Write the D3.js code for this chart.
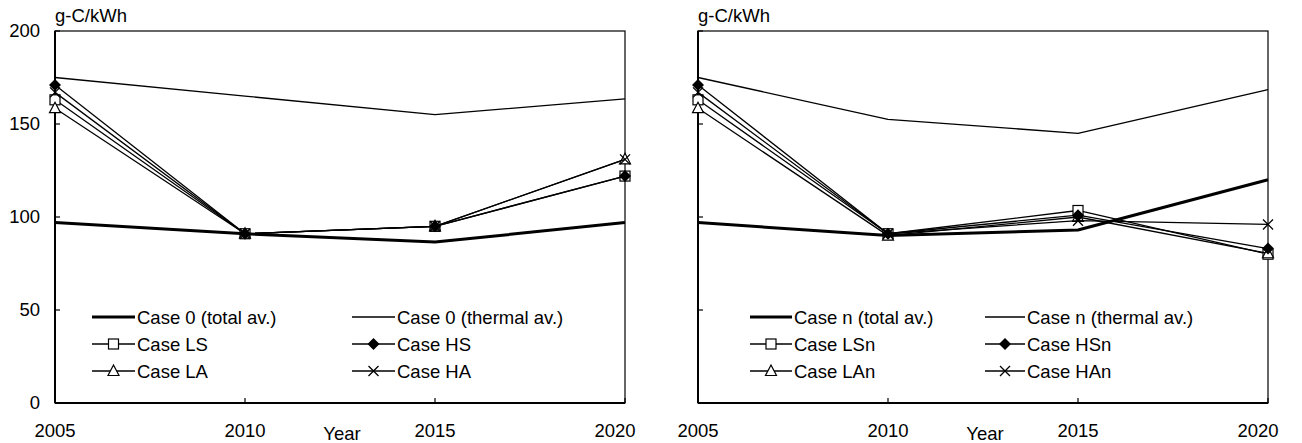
<!DOCTYPE html>
<html>
<head>
<meta charset="utf-8">
<script src="https://d3js.org/d3.v7.min.js"></script>
<style>
body { margin: 0; background: #fff; }
svg { display: block; font-family: "Liberation Sans", Arial, sans-serif; }
</style>
</head>
<body>
<svg id="chart" width="1302" height="443"></svg>
<script>
// years on the x axis
var years = [2005, 2010, 2015, 2020];
var yTicks = [0, 50, 100, 150, 200];

// left panel: Case 0 family
var case0Total   = [97, 91, 86.5, 97];
var case0Thermal = [175, 165, 155, 163.5];
var caseLS = [163, 91, 95, 122];
var caseHS = [171, 91, 95, 122];
var caseLA = [158.5, 91, 95, 131];
var caseHA = [167, 91, 95, 131];

// right panel: Case n family
var casenTotal   = [97, 90, 93, 120];
var casenThermal = [175, 152.5, 145, 168.5];
var caseLSn = [163, 91, 103.5, 80];
var caseHSn = [171, 91, 101, 83];
var caseLAn = [158.5, 90, 100, 80.5];
var caseHAn = [167, 91, 98, 96];

var leftNames  = ["Case 0 (total av.)", "Case 0 (thermal av.)", "Case LS", "Case HS", "Case LA", "Case HA"];
var rightNames = ["Case n (total av.)", "Case n (thermal av.)", "Case LSn", "Case HSn", "Case LAn", "Case HAn"];

var kinds = ["thick", "thin", "square", "diamond", "triangle", "cross"];

var svg = d3.select("#chart");
var H = 403, T = 31;
var FS = 18.5;

function drawMarker(g, kind, x, y) {
  if (kind == "square") {
    g.append("rect").attr("x", x - 5).attr("y", y - 5).attr("width", 10).attr("height", 10)
      .attr("fill", "#fff").attr("stroke", "#000").attr("stroke-width", 1.2);
  } else if (kind == "diamond") {
    g.append("path").attr("d", "M0,-6L6,0L0,6L-6,0Z")
      .attr("transform", "translate(" + x + "," + y + ")").attr("fill", "#000");
  } else if (kind == "triangle") {
    g.append("path").attr("d", "M0,-6L5.5,4.5L-5.5,4.5Z")
      .attr("transform", "translate(" + x + "," + y + ")")
      .attr("fill", "#fff").attr("stroke", "#000").attr("stroke-width", 1.2);
  } else if (kind == "cross") {
    g.append("path").attr("d", "M-5,-5L5,5M-5,5L5,-5")
      .attr("transform", "translate(" + x + "," + y + ")")
      .attr("stroke", "#000").attr("stroke-width", 1.3);
  }
}

function panel(left, series, names, showYLabels, legendPos) {
  var x = d3.scaleLinear().domain([2005, 2020]).range([left, left + 570]);
  var y = d3.scaleLinear().domain([0, 200]).range([H, T]);
  var g = svg.append("g");

  // frame
  g.append("rect").attr("x", x(2005)).attr("y", y(200))
    .attr("width", x(2020) - x(2005)).attr("height", y(0) - y(200))
    .attr("fill", "none").attr("stroke", "#000").attr("stroke-width", 1.2);
  g.append("line").attr("x1", x(2005)).attr("x2", x(2005)).attr("y1", y(200)).attr("y2", y(0))
    .attr("stroke", "#000").attr("stroke-width", 2);
  g.append("line").attr("x1", x(2005)).attr("x2", x(2020)).attr("y1", y(0)).attr("y2", y(0))
    .attr("stroke", "#000").attr("stroke-width", 2);

  // ticks
  yTicks.forEach(function (t) {
    g.append("line").attr("x1", x(2005)).attr("x2", x(2005) + 5).attr("y1", y(t)).attr("y2", y(t))
      .attr("stroke", "#000").attr("stroke-width", 1.2);
    if (showYLabels) {
      g.append("text").attr("x", x(2005) - 15).attr("y", y(t) + 6).attr("text-anchor", "end")
        .attr("font-size", FS).text(t);
    }
  });
  years.forEach(function (yr) {
    g.append("line").attr("x1", x(yr)).attr("x2", x(yr)).attr("y1", y(0)).attr("y2", y(0) - 5)
      .attr("stroke", "#000").attr("stroke-width", 1.2);
    g.append("text").attr("x", yr == 2020 ? x(yr) - 10 : x(yr)).attr("y", 437).attr("text-anchor", "middle")
      .attr("font-size", FS).text(yr);
  });
  g.append("text").attr("x", left + 287).attr("y", 440).attr("text-anchor", "middle")
    .attr("font-size", FS).text("Year");
  g.append("text").attr("x", left).attr("y", 22).attr("font-size", FS).text("g-C/kWh");

  var line = d3.line().x(function (d, i) { return x(years[i]); }).y(function (d) { return y(d); });

  // draw markers series first, averages on top
  [2, 4, 5, 3, 1, 0].forEach(function (k) {
    var kind = kinds[k];
    g.append("path").attr("d", line(series[k])).attr("fill", "none").attr("stroke", "#000")
      .attr("stroke-width", kind == "thick" ? 3 : 1.3).attr("stroke-linejoin", "round");
    if (kind != "thick" && kind != "thin") {
      series[k].forEach(function (v, i) { drawMarker(g, kind, x(years[i]), y(v)); });
    }
  });

  // legend
  names.forEach(function (nm, k) {
    var col = k % 2, row = Math.floor(k / 2);
    var lx = left + legendPos[col][0], lx2 = left + legendPos[col][1];
    var ly = 317 + row * 27;
    g.append("line").attr("x1", lx).attr("x2", lx2).attr("y1", ly).attr("y2", ly)
      .attr("stroke", "#000").attr("stroke-width", kinds[k] == "thick" ? 3 : 1.3);
    drawMarker(g, kinds[k], (lx + lx2) / 2, ly);
    g.append("text").attr("x", lx2 + 2).attr("y", ly + 6.5).attr("font-size", FS).text(nm);
  });
}

panel(55, [case0Total, case0Thermal, caseLS, caseHS, caseLA, caseHA], leftNames, true,
  [[37, 80], [297, 340]]);
panel(698, [casenTotal, casenThermal, caseLSn, caseHSn, caseLAn, caseHAn], rightNames, false,
  [[52, 94], [287, 327]]);
</script>
</body>
</html>
